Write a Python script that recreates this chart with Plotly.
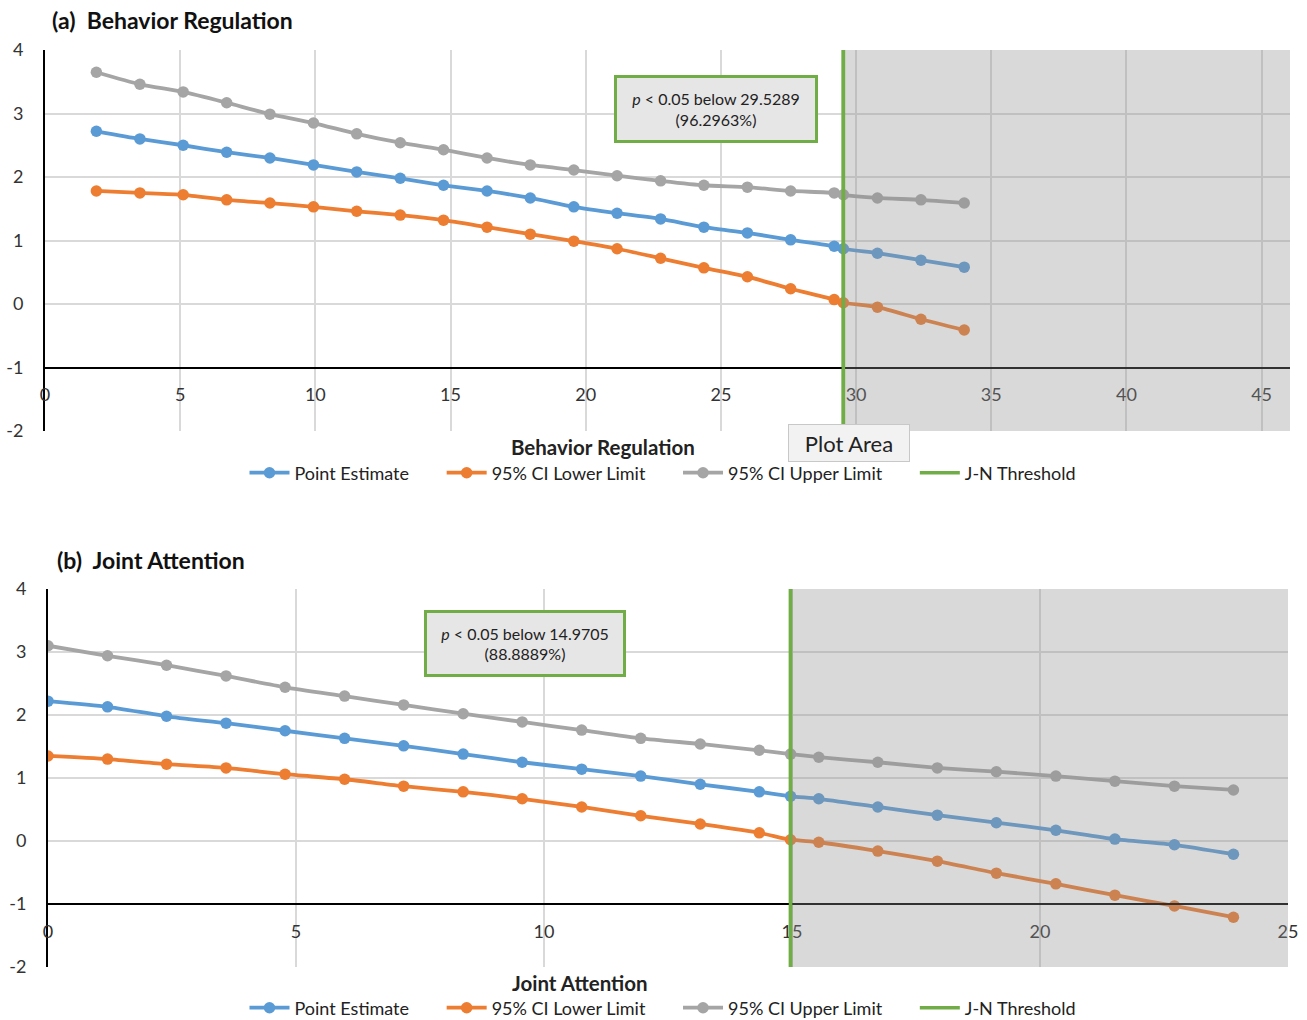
import plotly.graph_objects as go

# ---------------- data: (a) Behavior Regulation ----------------
thr_a = 29.5289
x_a = [1.90, 3.51, 5.11, 6.72, 8.32, 9.93, 11.53, 13.14, 14.74, 16.35, 17.95,
       19.56, 21.16, 22.77, 24.37, 25.98, 27.58, 29.19, 29.5289, 30.79, 32.40, 34.00]
pe_a = [2.72, 2.60, 2.50, 2.39, 2.30, 2.19, 2.08, 1.98, 1.87, 1.78, 1.67,
        1.53, 1.43, 1.34, 1.21, 1.12, 1.01, 0.91, 0.87, 0.80, 0.69, 0.58]
lo_a = [1.78, 1.75, 1.72, 1.64, 1.59, 1.53, 1.46, 1.40, 1.32, 1.21, 1.10,
        0.99, 0.87, 0.72, 0.57, 0.43, 0.24, 0.07, 0.02, -0.05, -0.24, -0.41]
up_a = [3.65, 3.46, 3.34, 3.17, 2.99, 2.85, 2.68, 2.54, 2.43, 2.30, 2.19,
        2.11, 2.02, 1.94, 1.87, 1.84, 1.78, 1.75, 1.72, 1.67, 1.64, 1.59]

# ---------------- data: (b) Joint Attention ----------------
thr_b = 14.9705
x_b = [0.00, 1.20, 2.39, 3.59, 4.78, 5.98, 7.17, 8.37, 9.56, 10.76, 11.95,
       13.15, 14.34, 14.9705, 15.54, 16.73, 17.93, 19.12, 20.32, 21.51, 22.71, 23.90]
pe_b = [2.22, 2.13, 1.98, 1.87, 1.75, 1.63, 1.51, 1.38, 1.25, 1.14, 1.03,
        0.90, 0.78, 0.71, 0.67, 0.54, 0.41, 0.29, 0.17, 0.03, -0.06, -0.21]
lo_b = [1.35, 1.30, 1.22, 1.16, 1.06, 0.98, 0.87, 0.78, 0.67, 0.54, 0.40,
        0.27, 0.13, 0.02, -0.02, -0.16, -0.32, -0.51, -0.68, -0.86, -1.03, -1.21]
up_b = [3.10, 2.94, 2.79, 2.62, 2.44, 2.30, 2.16, 2.02, 1.89, 1.76, 1.63,
        1.54, 1.44, 1.38, 1.33, 1.25, 1.16, 1.10, 1.03, 0.95, 0.87, 0.81]

series_names = ["Point Estimate", "95% CI Lower Limit", "95% CI Upper Limit"]
thr_name = "J-N Threshold"
x_ticks_a = [0, 5, 10, 15, 20, 25, 30, 35, 40, 45]
x_ticks_b = [0, 5, 10, 15, 20, 25]
y_ticks = [-2, -1, 0, 1, 2, 3, 4]
y_ticktext = ["-2", "-1", "0", "1", "2", "3", "4"]

# ---------------- styles ----------------
BLUE, ORANGE, GRAY, GREEN = "#5B9BD5", "#ED7D31", "#A5A5A5", "#70AD47"
FONT = "Lato"
W, H = 1307, 1020
LEGEND_PAD = "\u00a0" * 6     # spacing between legend entries

def px_x(p):
    return p / W

def px_y(p):
    return 1 - p / H

fig = go.Figure()

def add_panel(xs, ys_list, thr, xa, ya, legend):
    for name, ys, col in zip(series_names, ys_list, [BLUE, ORANGE, GRAY]):
        fig.add_trace(go.Scatter(
            x=xs, y=ys, name=name + LEGEND_PAD, mode="lines+markers",
            line=dict(color=col, width=3.8, shape="spline", smoothing=0.6),
            marker=dict(color=col, size=11.5),
            xaxis=xa, yaxis=ya, legend=legend))
    fig.add_trace(go.Scatter(
        x=[thr, thr], y=[y_ticks[0], y_ticks[-1]], name=thr_name, mode="lines",
        line=dict(color=GREEN, width=3.5), xaxis=xa, yaxis=ya, legend=legend))

add_panel(x_a, [pe_a, lo_a, up_a], thr_a, "x", "y", "legend")
add_panel(x_b, [pe_b, lo_b, up_b], thr_b, "x2", "y2", "legend2")

ya_dom = [px_y(431), px_y(50)]
yb_dom = [px_y(967), px_y(589)]
xa_dom = [px_x(45), px_x(1290)]
xb_dom = [px_x(48), px_x(1288)]

def xpos(dom):
    return dom[0] + (dom[1] - dom[0]) / 6.0  # y = -1 within [-2, 4]

tickfont = dict(family=FONT, size=18, color="#333333")
common_x = dict(showline=True, linecolor="black", linewidth=2, showgrid=True,
                gridcolor="#D9D9D9", gridwidth=1.5, zeroline=False,
                ticks="outside", ticklen=11, tickcolor="rgba(0,0,0,0)",
                tickfont=tickfont, anchor="free", automargin=False)
common_y = dict(showline=True, linecolor="black", linewidth=2, showgrid=True,
                gridcolor="#D9D9D9", gridwidth=1.5, zeroline=False,
                range=[-2, 4], tickvals=y_ticks, ticktext=y_ticktext,
                ticks="outside", ticklen=16, tickcolor="rgba(0,0,0,0)",
                tickfont=tickfont, automargin=False)

legend_style = dict(orientation="h", xanchor="center", yanchor="middle",
                    font=dict(family=FONT, size=18, color="#222222"),
                    bgcolor="rgba(0,0,0,0)", itemwidth=40, tracegroupgap=0)

fig.update_layout(
    width=W, height=H, margin=dict(l=0, r=0, t=0, b=0, autoexpand=False),
    paper_bgcolor="white", plot_bgcolor="white",
    font=dict(family=FONT, color="#222222"),
    xaxis=dict(domain=xa_dom, range=[0, 46.05], tickvals=x_ticks_a,
               position=xpos(ya_dom), **common_x),
    yaxis=dict(domain=ya_dom, anchor="x", **common_y),
    xaxis2=dict(domain=xb_dom, range=[0, 25], tickvals=x_ticks_b,
                position=xpos(yb_dom), **common_x),
    yaxis2=dict(domain=yb_dom, anchor="x2", **common_y),
    legend=dict(x=px_x(663), y=px_y(473), **legend_style),
    legend2=dict(x=px_x(663), y=px_y(1008), **legend_style),
    showlegend=True,
)

for xr, yr, thr, xmax in [("x", "y", thr_a, 46.05), ("x2", "y2", thr_b, 25)]:
    fig.add_shape(type="rect", xref=xr, yref=yr, x0=thr, x1=xmax, y0=-2, y1=4,
                  fillcolor="rgba(144,144,144,0.34)", line=dict(width=0), layer="above")
    fig.add_shape(type="line", xref=xr, yref=yr, x0=thr, x1=thr, y0=-2, y1=4,
                  line=dict(color=GREEN, width=3.5), layer="above")

fig.add_annotation(text="<b>(a)  Behavior Regulation</b>", xref="paper", yref="paper",
                   x=px_x(50), y=px_y(20), xanchor="left", yanchor="middle",
                   showarrow=False, font=dict(family=FONT, size=23, color="#111111"))
fig.add_annotation(text="<b>(b)  Joint Attention</b>", xref="paper", yref="paper",
                   x=px_x(55), y=px_y(560), xanchor="left", yanchor="middle",
                   showarrow=False, font=dict(family=FONT, size=23, color="#111111"))
fig.add_annotation(text="<b>Behavior Regulation</b>", xref="paper", yref="paper",
                   x=px_x(603), y=px_y(447), xanchor="center", yanchor="middle",
                   showarrow=False, font=dict(family=FONT, size=20.5, color="#222222"))
fig.add_annotation(text="<b>Joint Attention</b>", xref="paper", yref="paper",
                   x=px_x(580), y=px_y(983), xanchor="center", yanchor="middle",
                   showarrow=False, font=dict(family=FONT, size=20.5, color="#222222"))

fig.add_annotation(text="<i>p</i> &lt; 0.05 below 29.5289<br>(96.2963%)",
                   xref="paper", yref="paper", x=px_x(716), y=px_y(109),
                   xanchor="center", yanchor="middle", showarrow=False,
                   font=dict(family=FONT, size=16, color="#222222"),
                   bgcolor="#E7E6E6", bordercolor=GREEN, borderwidth=3, borderpad=4,
                   width=190, height=54)
fig.add_annotation(text="<i>p</i> &lt; 0.05 below 14.9705<br>(88.8889%)",
                   xref="paper", yref="paper", x=px_x(525), y=px_y(643),
                   xanchor="center", yanchor="middle", showarrow=False,
                   font=dict(family=FONT, size=16, color="#222222"),
                   bgcolor="#E7E6E6", bordercolor=GREEN, borderwidth=3, borderpad=4,
                   width=188, height=53)
fig.add_annotation(text="Plot Area", xref="paper", yref="paper", x=px_x(849), y=px_y(443),
                   xanchor="center", yanchor="middle", showarrow=False,
                   font=dict(family=FONT, size=22, color="#222222"),
                   bgcolor="#F2F2F2", bordercolor="#C8C8C8", borderwidth=1, borderpad=4,
                   width=112, height=28)

fig.write_html("out.html", config={"displayModeBar": False},
               post_script="document.body.style.margin='0';")
